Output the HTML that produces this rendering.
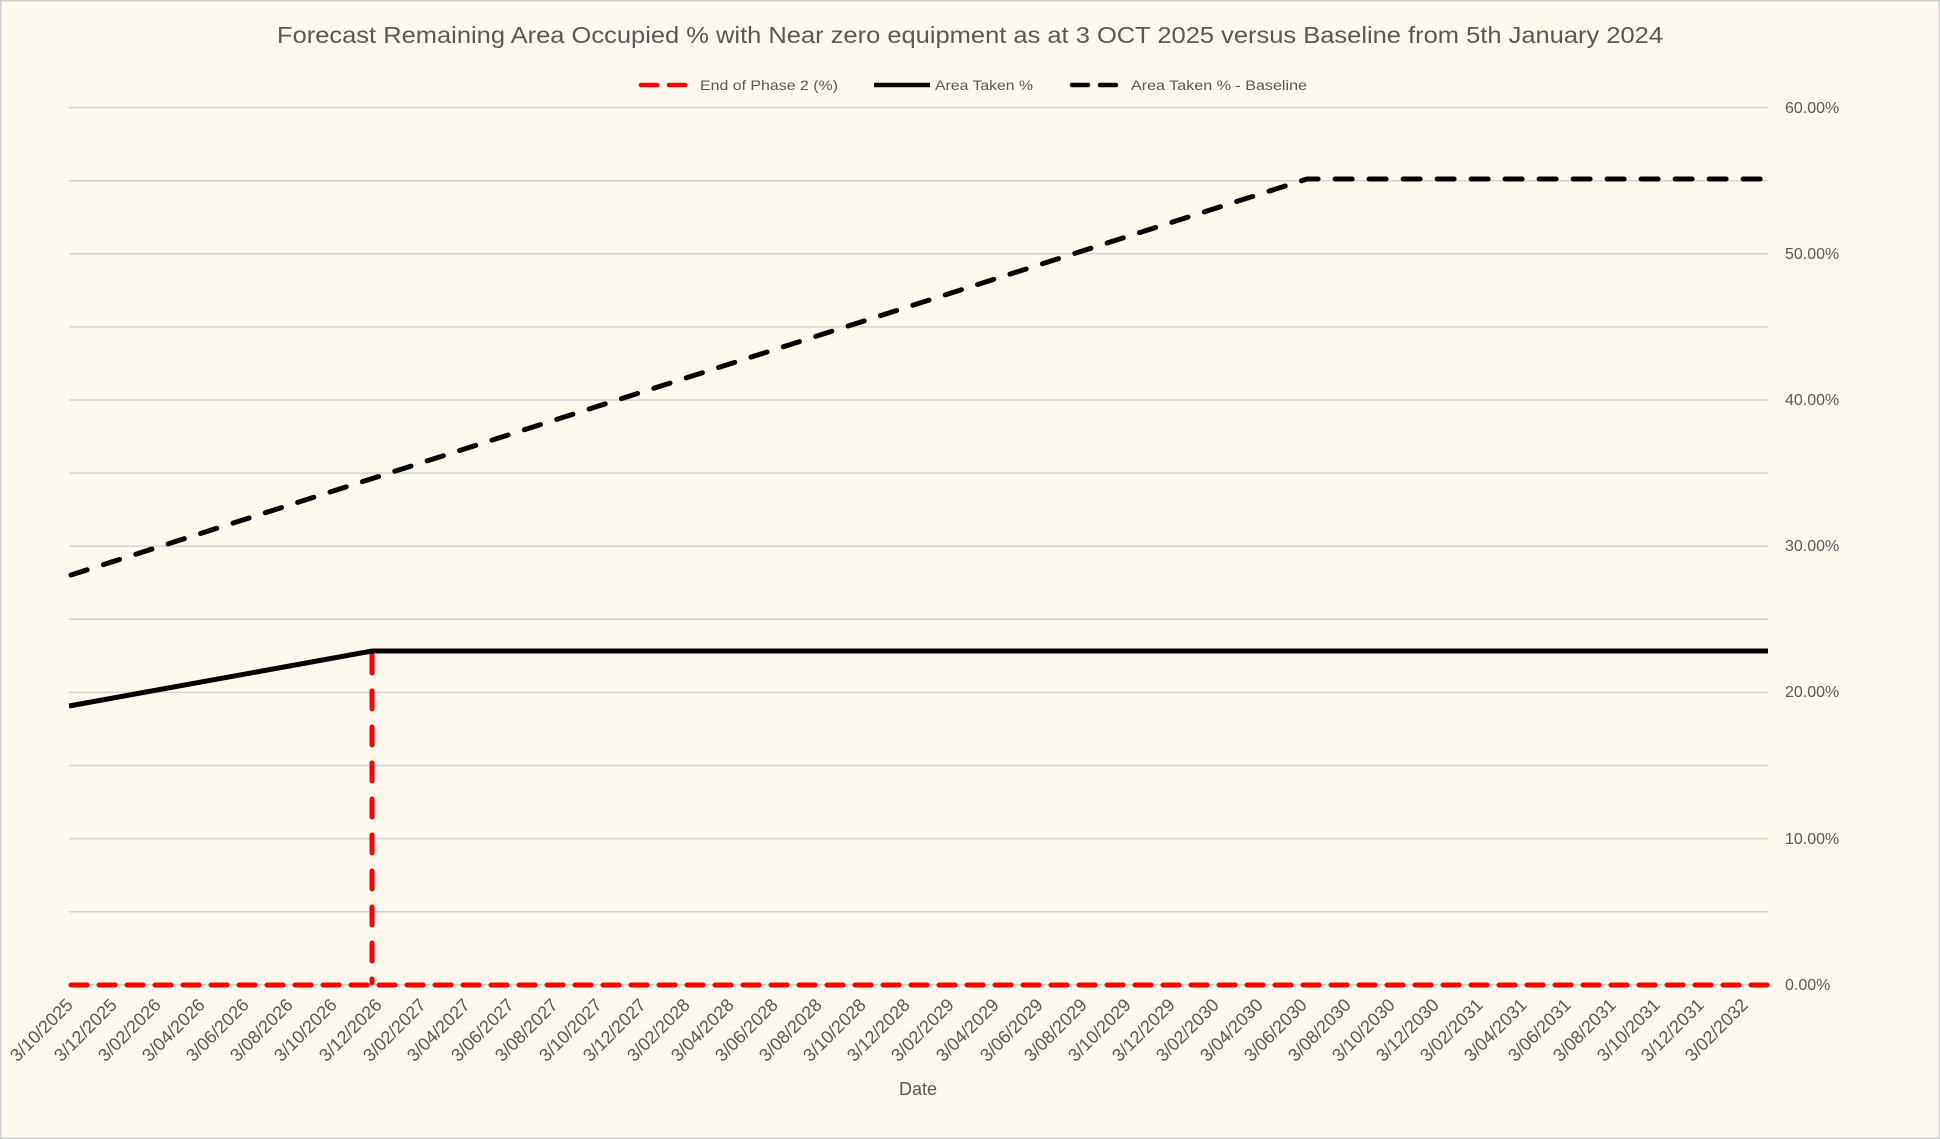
<!DOCTYPE html>
<html><head><meta charset="utf-8"><style>
html,body{margin:0;padding:0;background:#fdf9ee;}
svg{display:block;}
text{font-family:"Liberation Sans",sans-serif;fill:#595959;}
</style></head><body>
<svg width="1940" height="1139" viewBox="0 0 1940 1139" xmlns="http://www.w3.org/2000/svg">
<rect x="0.5" y="0.5" width="1939" height="1138" fill="#fdf9ee" stroke="#d0d0d0" stroke-width="2"/>
<text x="970" y="43" text-anchor="middle" font-size="23" textLength="1386" lengthAdjust="spacingAndGlyphs">Forecast Remaining Area Occupied % with Near zero equipment as at 3 OCT 2025 versus Baseline from 5th January 2024</text>
<line x1="641" y1="85" x2="694" y2="85" stroke="#ff0000" stroke-width="4.5" stroke-dasharray="16,12" stroke-linecap="round"/>
<text x="700" y="90" font-size="14" textLength="138" lengthAdjust="spacingAndGlyphs">End of Phase 2 (%)</text>
<line x1="874" y1="85" x2="930" y2="85" stroke="#000" stroke-width="4.5"/>
<text x="935" y="90" font-size="14" textLength="98" lengthAdjust="spacingAndGlyphs">Area Taken %</text>
<line x1="1072" y1="85" x2="1125" y2="85" stroke="#000" stroke-width="4.5" stroke-dasharray="16,12" stroke-linecap="round"/>
<text x="1131" y="90" font-size="14" textLength="176" lengthAdjust="spacingAndGlyphs">Area Taken % - Baseline</text>
<g stroke="#d3d3d3" stroke-width="1.5">
<line x1="69" y1="107.6" x2="1768" y2="107.6"/><line x1="69" y1="180.7" x2="1768" y2="180.7"/>
<line x1="69" y1="253.8" x2="1768" y2="253.8"/><line x1="69" y1="326.9" x2="1768" y2="326.9"/>
<line x1="69" y1="400" x2="1768" y2="400"/><line x1="69" y1="473.1" x2="1768" y2="473.1"/>
<line x1="69" y1="546.2" x2="1768" y2="546.2"/><line x1="69" y1="619.3" x2="1768" y2="619.3"/>
<line x1="69" y1="692.4" x2="1768" y2="692.4"/><line x1="69" y1="765.5" x2="1768" y2="765.5"/>
<line x1="69" y1="838.6" x2="1768" y2="838.6"/><line x1="69" y1="911.7" x2="1768" y2="911.7"/>
<line x1="69" y1="984.7" x2="1768" y2="984.7"/>
</g>
<g font-size="16">
<text x="1785" y="113">60.00%</text><text x="1785" y="259">50.00%</text>
<text x="1785" y="405">40.00%</text><text x="1785" y="551">30.00%</text>
<text x="1785" y="697">20.00%</text><text x="1785" y="844">10.00%</text>
<text x="1785" y="990">0.00%</text>
</g>
<line x1="71" y1="985" x2="1768" y2="985" stroke="#ff0000" stroke-width="5" stroke-dasharray="16,12" stroke-linecap="round"/>
<line x1="372" y1="655" x2="372" y2="983" stroke="#ff0000" stroke-width="5" stroke-dasharray="18,18" stroke-linecap="round"/>
<polyline points="69,706 372,651 1768,651" fill="none" stroke="#000" stroke-width="5"/>
<polyline points="71,575 1307,179 1768,179" fill="none" stroke="#000" stroke-width="5" stroke-dasharray="17,17" stroke-linecap="round"/>
<g font-size="18" text-anchor="end">
<text transform="translate(74,1006) rotate(-45)">3/10/2025</text>
<text transform="translate(118,1006) rotate(-45)">3/12/2025</text>
<text transform="translate(162,1006) rotate(-45)">3/02/2026</text>
<text transform="translate(206,1006) rotate(-45)">3/04/2026</text>
<text transform="translate(250,1006) rotate(-45)">3/06/2026</text>
<text transform="translate(294,1006) rotate(-45)">3/08/2026</text>
<text transform="translate(338,1006) rotate(-45)">3/10/2026</text>
<text transform="translate(383,1006) rotate(-45)">3/12/2026</text>
<text transform="translate(427,1006) rotate(-45)">3/02/2027</text>
<text transform="translate(471,1006) rotate(-45)">3/04/2027</text>
<text transform="translate(515,1006) rotate(-45)">3/06/2027</text>
<text transform="translate(559,1006) rotate(-45)">3/08/2027</text>
<text transform="translate(603,1006) rotate(-45)">3/10/2027</text>
<text transform="translate(647,1006) rotate(-45)">3/12/2027</text>
<text transform="translate(691,1006) rotate(-45)">3/02/2028</text>
<text transform="translate(735,1006) rotate(-45)">3/04/2028</text>
<text transform="translate(779,1006) rotate(-45)">3/06/2028</text>
<text transform="translate(823,1006) rotate(-45)">3/08/2028</text>
<text transform="translate(867,1006) rotate(-45)">3/10/2028</text>
<text transform="translate(911,1006) rotate(-45)">3/12/2028</text>
<text transform="translate(955,1006) rotate(-45)">3/02/2029</text>
<text transform="translate(1000,1006) rotate(-45)">3/04/2029</text>
<text transform="translate(1044,1006) rotate(-45)">3/06/2029</text>
<text transform="translate(1088,1006) rotate(-45)">3/08/2029</text>
<text transform="translate(1132,1006) rotate(-45)">3/10/2029</text>
<text transform="translate(1176,1006) rotate(-45)">3/12/2029</text>
<text transform="translate(1220,1006) rotate(-45)">3/02/2030</text>
<text transform="translate(1264,1006) rotate(-45)">3/04/2030</text>
<text transform="translate(1308,1006) rotate(-45)">3/06/2030</text>
<text transform="translate(1352,1006) rotate(-45)">3/08/2030</text>
<text transform="translate(1396,1006) rotate(-45)">3/10/2030</text>
<text transform="translate(1440,1006) rotate(-45)">3/12/2030</text>
<text transform="translate(1484,1006) rotate(-45)">3/02/2031</text>
<text transform="translate(1528,1006) rotate(-45)">3/04/2031</text>
<text transform="translate(1572,1006) rotate(-45)">3/06/2031</text>
<text transform="translate(1617,1006) rotate(-45)">3/08/2031</text>
<text transform="translate(1661,1006) rotate(-45)">3/10/2031</text>
<text transform="translate(1705,1006) rotate(-45)">3/12/2031</text>
<text transform="translate(1749,1006) rotate(-45)">3/02/2032</text>
</g>
<text x="918" y="1095" text-anchor="middle" font-size="18">Date</text>
</svg>
</body></html>
